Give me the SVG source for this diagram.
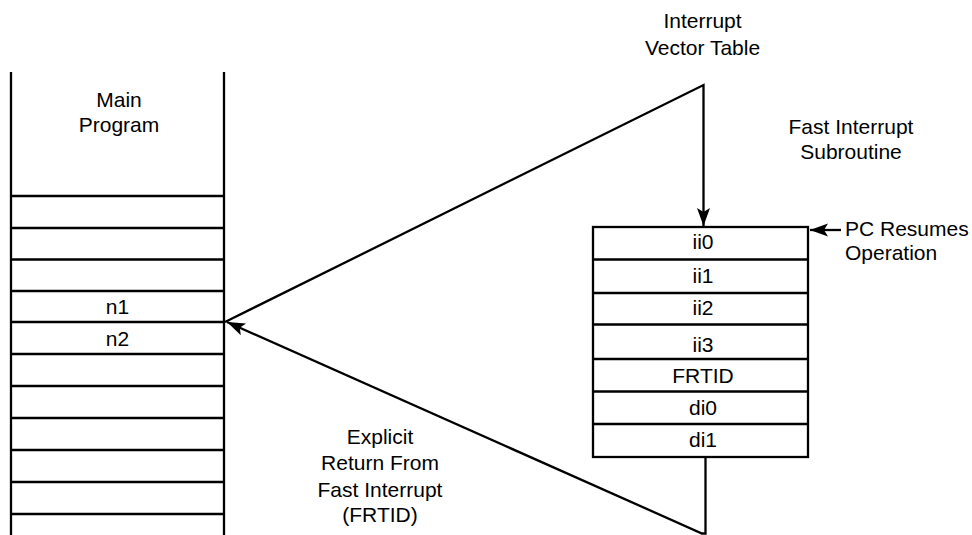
<svg xmlns="http://www.w3.org/2000/svg" width="972" height="535" viewBox="0 0 972 535">
<style>
text{font-family:"Liberation Sans",Arial,Helvetica,sans-serif;font-size:21px;fill:#000;text-anchor:middle}
.ln{stroke:#000;stroke-width:2.3;fill:none}
.lbl{text-anchor:start}
</style>
<defs>
<marker id="ah" markerUnits="userSpaceOnUse" markerWidth="24" markerHeight="16" viewBox="-20 -8 22 16" refX="0" refY="0" orient="auto">
<path d="M0,0 L-18,-6.5 L-14,0 L-18,6.5 z" fill="#000"/>
</marker>
</defs>
<rect width="972" height="535" fill="#fff"/>
<g id="main-program">
<path class="ln" d="M11,72 V535 M224,72 V535 M11,196 H224 M11,228 H224 M11,259.5 H224 M11,291 H224 M11,322 H224 M11,354 H224 M11,386 H224 M11,418 H224 M11,450 H224 M11,482 H224 M11,514 H224"/>
<text x="119" y="107">Main</text>
<text x="119" y="132">Program</text>
<text x="117.5" y="314">n1</text>
<text x="117.5" y="346">n2</text>
</g>
<g id="fast-interrupt-subroutine">
<rect class="ln" x="593" y="227" width="215" height="230"/>
<path class="ln" d="M593,259.5 H808 M593,293 H808 M593,324.5 H808 M593,359 H808 M593,391.5 H808 M593,424 H808"/>
<text x="703" y="249">ii0</text>
<text x="703" y="282.5">ii1</text>
<text x="703" y="315">ii2</text>
<text x="703" y="351.5">ii3</text>
<text x="703" y="383">FRTID</text>
<text x="703" y="415">di0</text>
<text x="703" y="447">di1</text>
</g>
<g id="labels">
<text x="702.5" y="27.5">Interrupt</text>
<text x="702.5" y="55">Vector Table</text>
<text x="851" y="133.5">Fast Interrupt</text>
<text x="851" y="158.5">Subroutine</text>
<text class="lbl" x="845" y="236">PC Resumes</text>
<text class="lbl" x="845" y="260">Operation</text>
<text x="380" y="444">Explicit</text>
<text x="380" y="470">Return From</text>
<text x="380" y="496.5">Fast Interrupt</text>
<text x="380" y="522">(FRTID)</text>
</g>
<g id="connectors">
<path class="ln" d="M225,322 L703.5,85 V226" marker-end="url(#ah)"/>
<path class="ln" d="M705.5,457 V533.5 L702,533.5 L227,322" marker-end="url(#ah)"/>
<path class="ln" d="M841,230 H810" marker-end="url(#ah)"/>
</g>
</svg>
